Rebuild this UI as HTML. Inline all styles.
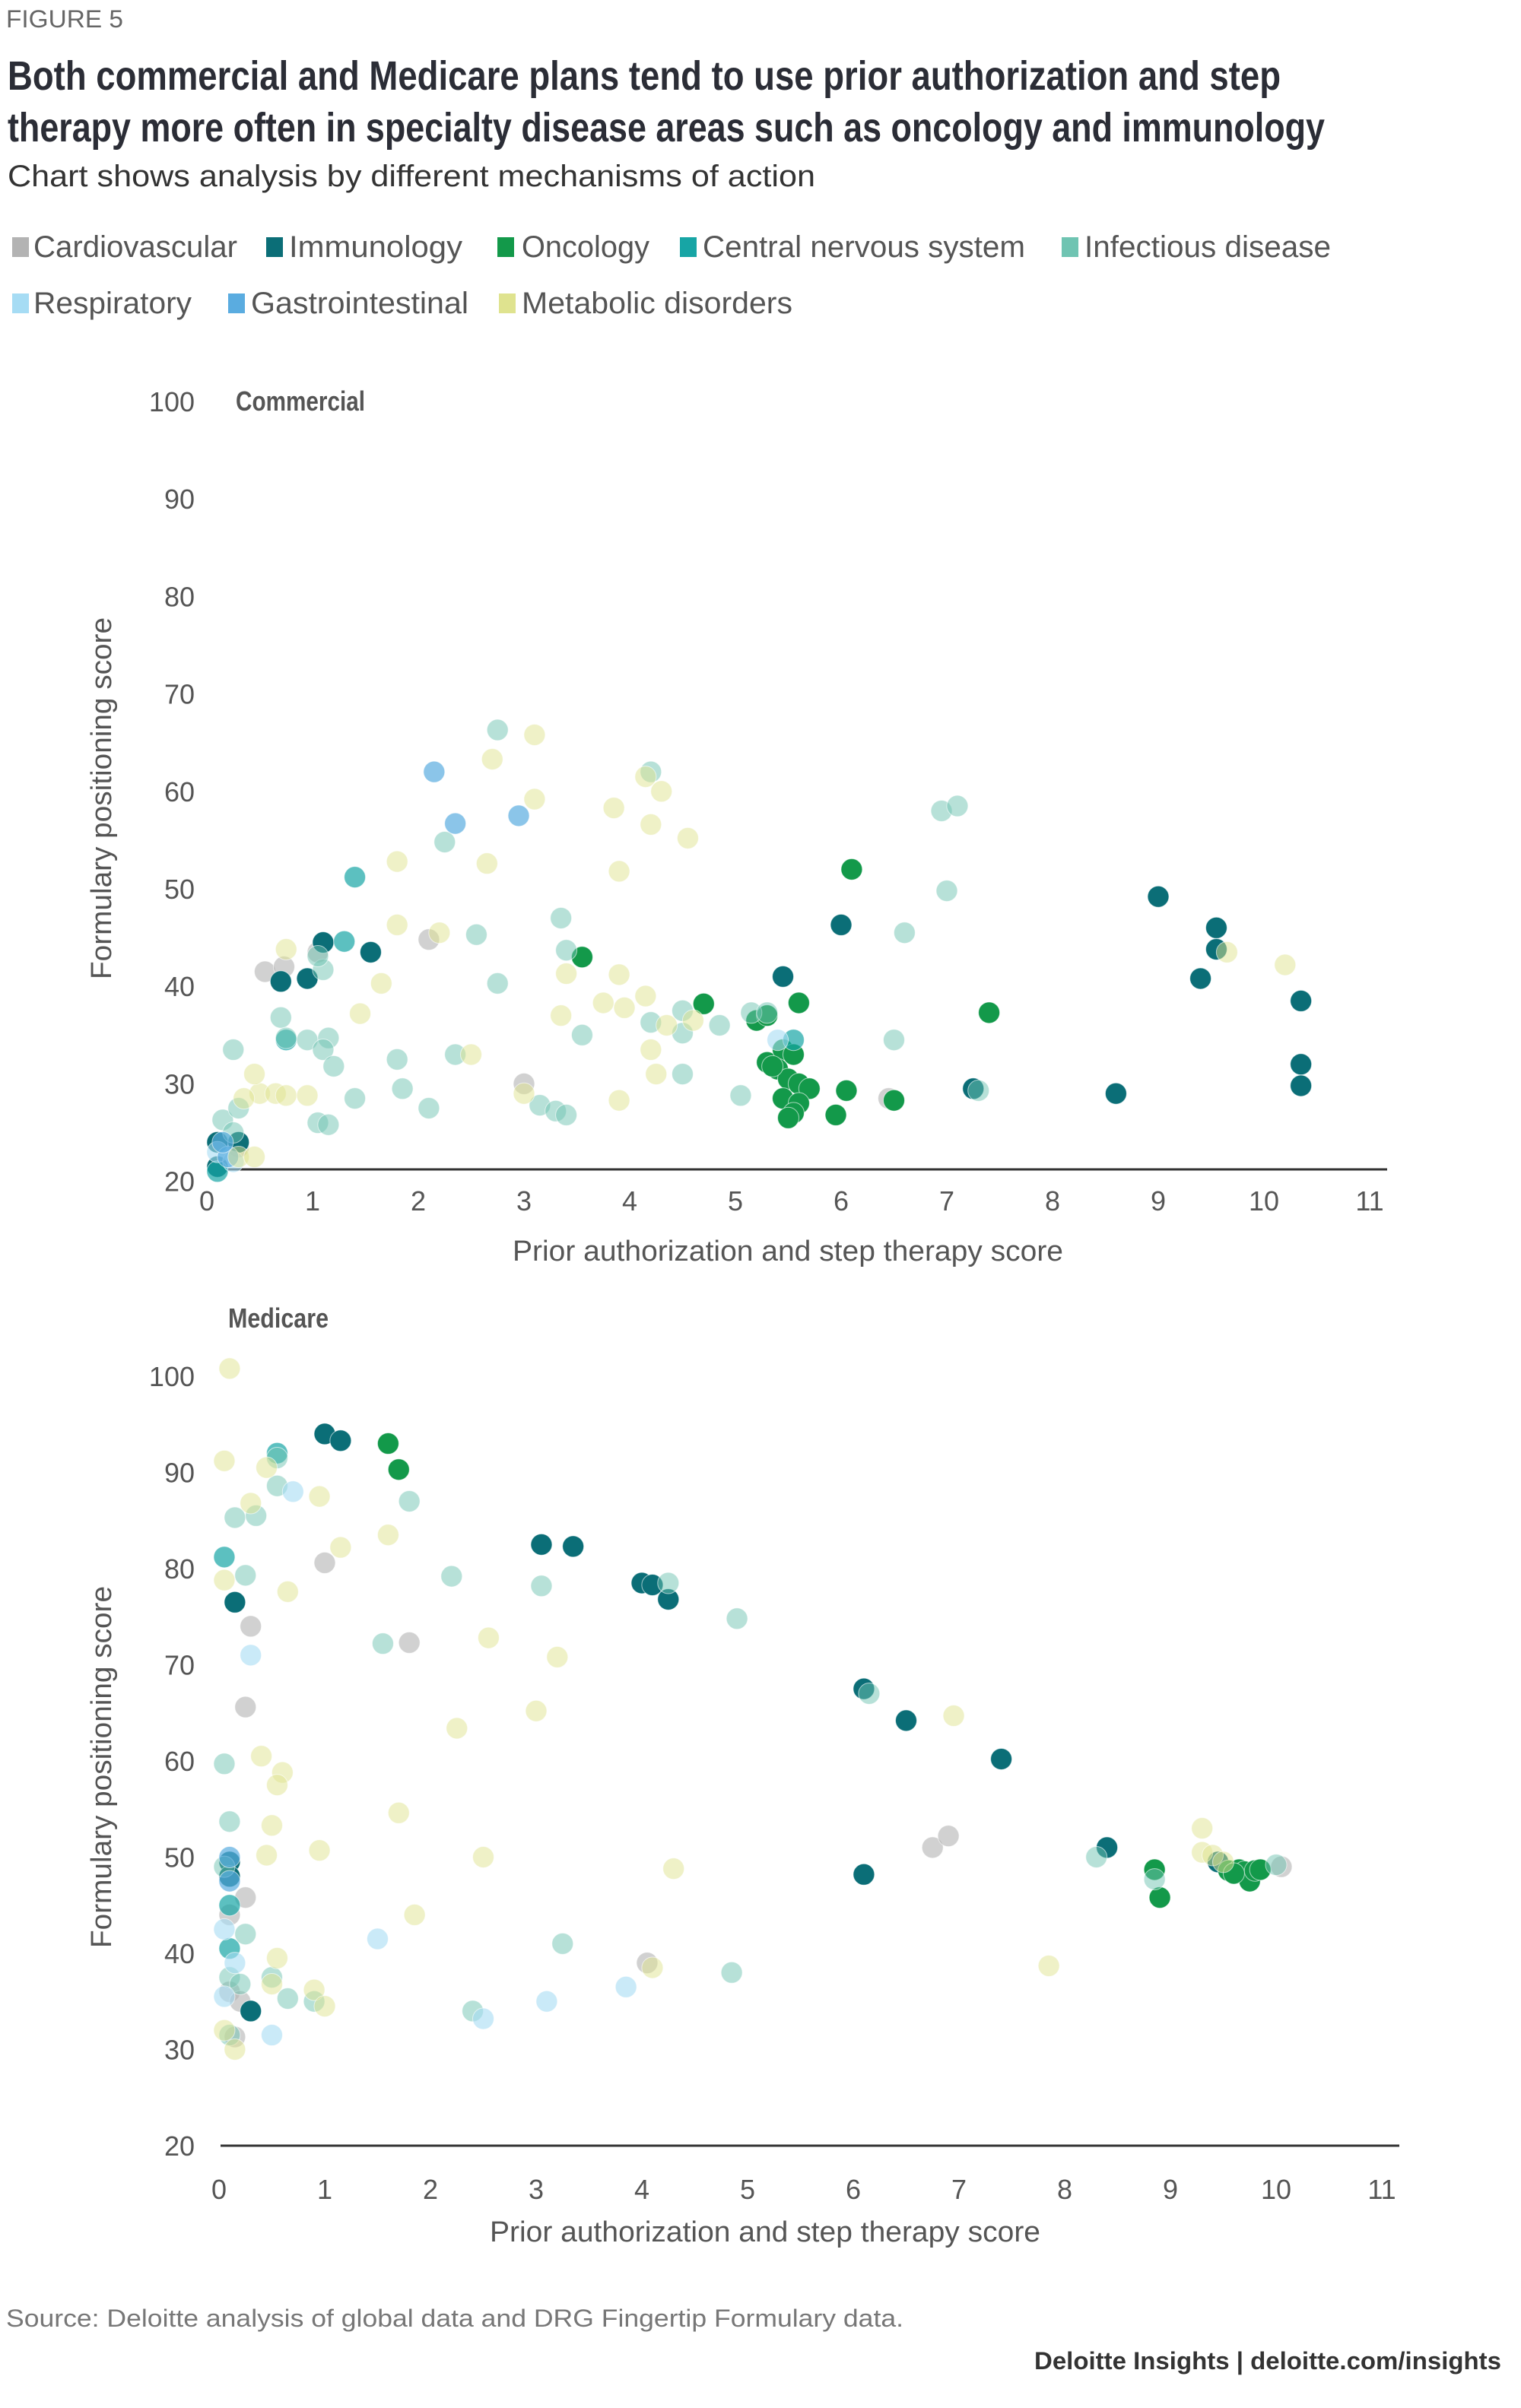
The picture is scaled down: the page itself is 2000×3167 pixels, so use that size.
<!DOCTYPE html>
<html><head><meta charset="utf-8">
<style>
html,body{margin:0;padding:0;background:#fff;}
svg{display:block;font-family:"Liberation Sans",sans-serif;}
</style></head>
<body>
<svg id="fig" width="2000" height="3167" viewBox="0 0 2000 3167" xmlns="http://www.w3.org/2000/svg">
<text x="8" y="36" font-size="32" fill="#666" textLength="154" lengthAdjust="spacingAndGlyphs">FIGURE 5</text>
<text x="10" y="118" font-size="54" font-weight="bold" fill="#2b2d36" textLength="1674" lengthAdjust="spacingAndGlyphs">Both commercial and Medicare plans tend to use prior authorization and step</text>
<text x="10" y="186" font-size="54" font-weight="bold" fill="#2b2d36" textLength="1732" lengthAdjust="spacingAndGlyphs">therapy more often in specialty disease areas such as oncology and immunology</text>
<text x="10" y="245" font-size="40" fill="#333" textLength="1062" lengthAdjust="spacingAndGlyphs">Chart shows analysis by different mechanisms of action</text>
<g id="legend"></g>
<g id="chart1"></g>
<g id="chart2"></g>
<text x="8" y="3060" font-size="32" fill="#777" textLength="1180" lengthAdjust="spacingAndGlyphs">Source: Deloitte analysis of global data and DRG Fingertip Formulary data.</text>
<text x="1974" y="3116" font-size="32" font-weight="bold" fill="#333" text-anchor="end" textLength="614" lengthAdjust="spacingAndGlyphs">Deloitte Insights | deloitte.com/insights</text>
</svg>
<script>
const seriesNames = ["Cardiovascular","Immunology","Oncology","Central nervous system","Infectious disease","Respiratory","Gastrointestinal","Metabolic disorders"];
const xTicks = [0,1,2,3,4,5,6,7,8,9,10,11];
const yTicks = [20,30,40,50,60,70,80,90,100];

const comCardio = [[0.55,41.5],[0.73,42],[1.05,43.5],[2.1,44.8],[3,30],[6.45,28.5],[0.3,23.5]];
const comImmuno = [[0.1,24],[0.3,24],[0.1,21.5],[0.7,40.5],[0.95,40.8],[1.1,44.5],[1.55,43.5],[5.45,41],[6,46.3],[7.25,29.5],[8.6,29],[9,49.2],[9.55,46],[9.55,43.8],[9.4,40.8],[10.35,38.5],[10.35,32],[10.35,29.8]];
const comOnco = [[3.55,43],[4.7,38.2],[5.2,36.5],[5.3,37],[5.6,38.3],[6.1,52],[7.4,37.3],[5.3,32.2],[5.45,33.5],[5.55,33],[5.4,31.5],[5.5,30.5],[5.6,30],[5.7,29.5],[5.45,28.5],[5.6,28],[5.55,27],[5.5,26.5],[5.95,26.8],[6.05,29.3],[6.5,28.3],[5.35,31.8]];
const comCns = [[1.4,51.2],[1.3,44.6],[0.1,21],[0.75,34.5],[5.55,34.5]];
const comInfect = [[2.75,66.3],[4.2,62],[2.25,54.8],[3.35,47],[2.55,45.3],[3.4,43.7],[2.75,40.3],[0.7,36.8],[0.75,34.7],[0.95,34.5],[1.15,34.7],[1.1,33.5],[0.25,33.5],[1.2,31.8],[1.8,32.5],[2.35,33],[3.55,35],[1.85,29.5],[2.1,27.5],[1.4,28.5],[3.15,27.8],[3.3,27.2],[3.4,26.8],[1.05,26],[1.15,25.8],[0.15,26.3],[0.3,27.5],[0.25,25],[4.2,36.3],[4.5,37.5],[4.5,35.2],[4.5,31],[4.85,36],[5.05,28.8],[5.15,37.3],[6.6,45.5],[6.95,58],[7.1,58.5],[7,49.8],[6.5,34.5],[7.3,29.3],[5.3,37.3],[1.1,41.7],[1.05,43.1]];
const comResp = [[0.1,23],[0.25,22],[5.4,34.5]];
const comGastro = [[2.15,62],[2.35,56.7],[2.95,57.5],[0.2,22.5],[0.15,24]];
const comMetab = [[2.7,63.3],[3.1,65.8],[3.1,59.2],[1.8,52.8],[2.65,52.6],[0.75,43.8],[1.8,46.3],[2.2,45.5],[2.5,33],[1.65,40.3],[1.45,37.2],[0.5,29],[0.65,29],[0.75,28.8],[0.95,28.8],[0.35,28.5],[0.45,31],[0.3,22.5],[0.45,22.5],[3,29],[3.4,41.3],[3.35,37],[3.75,38.3],[3.95,37.8],[3.9,41.2],[4.15,39],[4.2,33.5],[4.25,31],[3.9,28.3],[3.9,51.8],[3.85,58.3],[4.15,61.5],[4.3,60],[4.2,56.6],[4.55,55.2],[4.35,36],[4.6,36.5],[10.2,42.2],[9.65,43.5]];

const medCardio = [[0.3,74],[0.25,65.6],[0.25,45.8],[0.1,44],[0.15,31.3],[1.0,80.6],[1.8,72.3],[4.05,39],[6.75,51],[6.9,52.2],[10.05,49],[0.1,36],[0.2,35]];
const medImmuno = [[1.0,94],[1.15,93.3],[3.05,82.5],[3.35,82.3],[4.0,78.5],[4.1,78.3],[4.25,76.8],[6.1,67.5],[6.5,64.2],[7.4,60.2],[6.1,48.2],[8.4,51],[9.45,49.5],[0.15,76.5],[0.1,49.5],[0.1,48],[0.3,34]];
const medOnco = [[1.6,93],[1.7,90.3],[8.85,48.7],[8.9,45.8],[9.55,48.6],[9.65,48.7],[9.7,48.5],[9.75,47.5],[9.8,48.6],[9.85,48.7],[9.6,48.3]];
const medCns = [[0.05,81.2],[0.55,92],[0.1,45],[0.1,40.5]];
const medInfect = [[0.15,85.3],[0.35,85.5],[0.55,91.5],[0.55,88.6],[0.25,79.3],[1.8,87],[2.2,79.2],[3.05,78.2],[4.25,78.5],[4.9,74.8],[1.55,72.2],[0.05,59.7],[0.1,53.7],[0.05,49],[0.25,42],[0.1,37.5],[0.2,36.8],[0.5,37.5],[0.65,35.3],[0.9,35],[3.25,41],[2.4,34],[4.85,38],[6.15,67],[8.3,50],[8.85,47.7],[10.0,49.2],[0.1,31.5]];
const medResp = [[0.3,71],[0.7,88],[0.05,42.5],[0.15,39],[1.5,41.5],[0.05,35.5],[0.5,31.5],[2.5,33.2],[3.1,35],[3.85,36.5]];
const medGastro = [[0.1,50],[0.1,47.5]];
const medMetab = [[0.1,100.8],[0.05,91.2],[0.3,86.8],[0.45,90.5],[0.95,87.5],[1.15,82.2],[1.6,83.5],[0.65,77.6],[0.05,78.8],[2.55,72.8],[3.2,70.8],[2.25,63.4],[3.0,65.2],[0.4,60.5],[0.6,58.8],[0.55,57.5],[1.7,54.6],[0.5,53.3],[0.45,50.2],[0.95,50.7],[2.5,50],[1.85,44],[4.3,48.8],[0.55,39.5],[0.5,36.8],[0.9,36.2],[1.0,34.5],[0.05,32],[0.15,30],[4.1,38.5],[6.95,64.7],[7.85,38.7],[9.3,53],[9.3,50.5],[9.4,50.2],[9.5,49.5]];

const NS = "http://www.w3.org/2000/svg";
const colors = ["#b3b3b3","#0b6e77","#13994a","#17a5a5","#6fc4b2","#a6dcf4","#5aace0","#dfe38f"];
const opac = [0.6,1,1,0.7,0.5,0.6,0.7,0.5];
function mk(tag, attrs, parent){const e=document.createElementNS(NS,tag);for(const k in attrs)e.setAttribute(k,attrs[k]);parent.appendChild(e);return e;}

// legend
const legend=document.getElementById('legend');
const legPos=[[16,44,338],[350,380,338],[654,686,338],[894,924,338],[1396,1426,338],[16,44,412],[300,330,412],[656,686,412]];
const legW=[268,228,168,424,324,208,286,356];
seriesNames.forEach((n,i)=>{
  const g=mk('g',{},legend);
  
  
  const r=mk('rect',{x:legPos[i][0],y:legPos[i][2]-26,width:22,height:26,fill:colors[i]},g);
  
  
  const t=mk('text',{x:legPos[i][1],y:legPos[i][2],'font-size':40,fill:'#555',textLength:legW[i],lengthAdjust:'spacingAndGlyphs'},g);
  
  
  t.textContent=n;
});

function drawChart(gid, cfg, series){
  const g=document.getElementById(gid);
  const sx=v=>cfg.x0+v*cfg.kx;
  const sy=v=>cfg.y100+(100-v)*cfg.ky;
  yTicks.forEach(v=>{
    const t=mk('text',{x:cfg.ylabX,y:sy(v)+13,'font-size':36,fill:'#555','text-anchor':'end'},g);
    
    
    t.textContent=v;
  });
  xTicks.forEach(v=>{
    const t=mk('text',{x:sx(v),y:cfg.xlabY,'font-size':36,fill:'#555','text-anchor':'middle'},g);
    
    
    t.textContent=v;
  });
  const ax=mk('line',{x1:cfg.x0+2,x2:cfg.axEnd,y1:cfg.axY,y2:cfg.axY,stroke:'#333','stroke-width':3},g);
  
  
  const yt=mk('text',{x:0,y:0,'font-size':38,fill:'#555','text-anchor':'middle',transform:`translate(${cfg.ytX},${cfg.ytY}) rotate(-90)`,textLength:476,lengthAdjust:'spacingAndGlyphs'},g);
  
  
  yt.textContent='Formulary positioning score';
  const xt=mk('text',{x:cfg.xtX,y:cfg.xtY,'font-size':38,fill:'#555','text-anchor':'middle',textLength:724,lengthAdjust:'spacingAndGlyphs'},g);
  
  
  xt.textContent='Prior authorization and step therapy score';
  const pt=mk('text',{x:cfg.ptX,y:cfg.ptY,'font-size':36,'font-weight':'bold',fill:'#555',textLength:cfg.ptW,lengthAdjust:'spacingAndGlyphs'},g);
  
  
  pt.textContent=cfg.title;
  series.forEach((pts,i)=>{
    pts.forEach(p=>{
      const c=mk('circle',{cx:sx(p[0]),cy:sy(p[1]),r:14,fill:colors[i],'fill-opacity':opac[i],stroke:'#fff','stroke-width':1,'stroke-opacity':0.6},g);
      
      
    });
  });
}
drawChart('chart1',{x0:272,kx:139,y100:528,ky:12.82,ylabX:256,xlabY:1592,axY:1538,axEnd:1824,ytX:146,ytY:1050,xtX:1036,xtY:1658,ptX:310,ptY:540,ptW:170,title:'Commercial'},
  [comCardio,comInfect,comResp,comGastro,comMetab,comCns,comImmuno,comOnco].length?[comCardio,comImmuno,comOnco,comCns,comInfect,comResp,comGastro,comMetab]:[]);
drawChart('chart2',{x0:288,kx:139,y100:1810,ky:12.65,ylabX:256,xlabY:2892,axY:2822,axEnd:1840,ytX:146,ytY:2324,xtX:1006,xtY:2948,ptX:300,ptY:1746,ptW:132,title:'Medicare'},
  [medCardio,medImmuno,medOnco,medCns,medInfect,medResp,medGastro,medMetab]);
</script>
</body></html>
